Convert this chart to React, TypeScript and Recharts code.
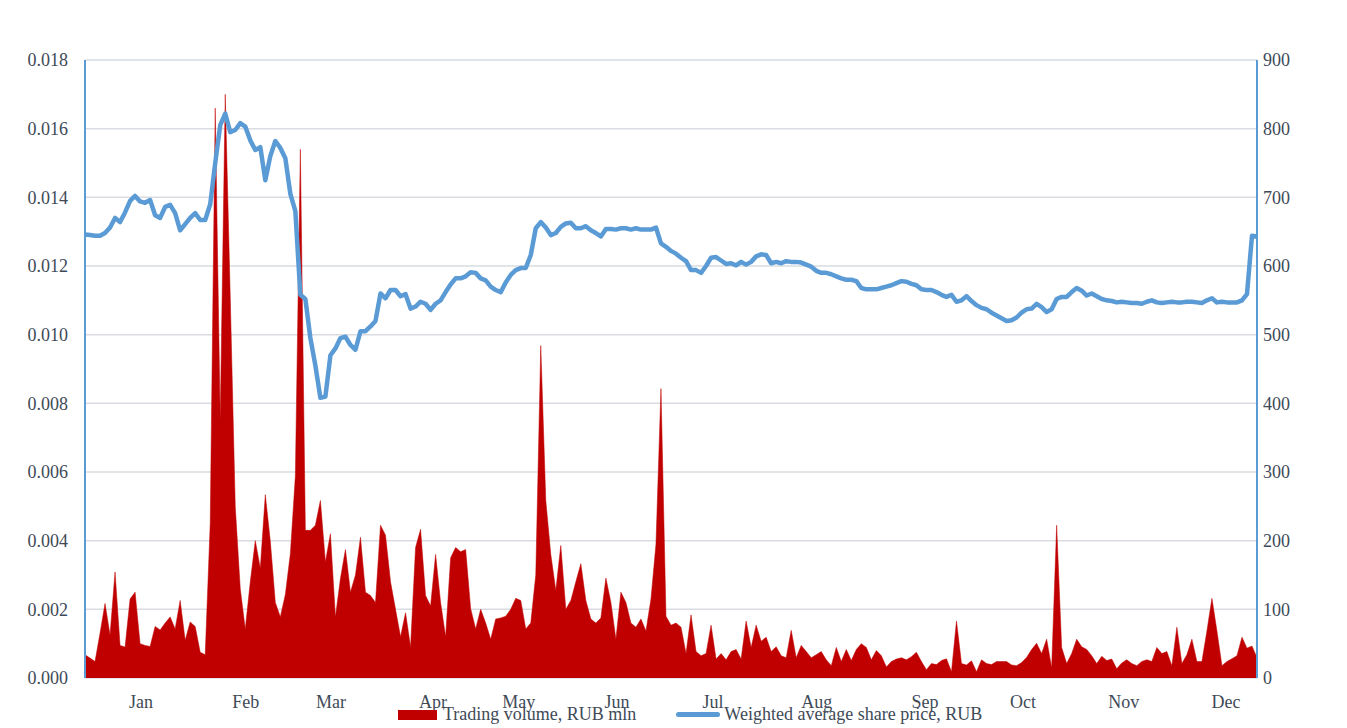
import React from "react";
import {
  ComposedChart,
  Area,
  Line,
  XAxis,
  YAxis,
  CartesianGrid,
} from "recharts";

// trading volume, one value per trading day (left axis)
const volume = [
  0.00068, 0.00058, 0.00048, 0.0013, 0.00217, 0.00125, 0.00309, 0.00095, 0.0009, 0.0023,
  0.0025, 0.001, 0.00095, 0.00092, 0.0015, 0.0014, 0.0016, 0.00178, 0.00143, 0.00226,
  0.0011, 0.00163, 0.0015, 0.00075, 0.00068, 0.0045, 0.0166, 0.0075, 0.017, 0.0111,
  0.005, 0.0026, 0.00143, 0.0028, 0.004, 0.0032, 0.00534, 0.00398, 0.0022, 0.00178,
  0.00243, 0.00362, 0.00588, 0.0154, 0.0043, 0.0043, 0.00445, 0.00517, 0.00338, 0.0042,
  0.00178, 0.0029, 0.00374, 0.0025, 0.003, 0.0041, 0.0025, 0.0024, 0.0022, 0.00445,
  0.00416, 0.0028, 0.002, 0.0012, 0.0019, 0.0009, 0.0038, 0.00433, 0.0024, 0.0021,
  0.0036, 0.0022, 0.0012, 0.0035, 0.0038, 0.00368, 0.00374, 0.00202, 0.00143, 0.002,
  0.0016, 0.00113, 0.00172, 0.00175, 0.0018, 0.002, 0.00232, 0.00226, 0.00143, 0.0016,
  0.003, 0.00968, 0.00517, 0.0036, 0.00255, 0.00386, 0.002, 0.00226, 0.0028, 0.00333,
  0.00226, 0.00172, 0.0016, 0.00175, 0.00291, 0.0022, 0.00113, 0.0025, 0.0022, 0.0016,
  0.00148, 0.00172, 0.00137, 0.0023, 0.0039, 0.00843, 0.0018, 0.00154, 0.0016, 0.00148,
  0.00071, 0.00184, 0.00077, 0.00065, 0.00071, 0.00154, 0.00055, 0.00071, 0.00053, 0.00077,
  0.00083, 0.00055, 0.00166, 0.00089, 0.00154, 0.00107, 0.00119, 0.00077, 0.00091, 0.00065,
  0.00059, 0.00139, 0.00059, 0.00095, 0.00077, 0.00059, 0.00068, 0.00077, 0.00053, 0.00036,
  0.00089, 0.00048, 0.00083, 0.00051, 0.00083, 0.001, 0.00089, 0.00053, 0.0008, 0.00065,
  0.00032, 0.00048, 0.00055, 0.00059, 0.00053, 0.00062, 0.00075, 0.00048, 0.00024, 0.00042,
  0.00039, 0.00051, 0.00056, 0.00018, 0.00166, 0.00042, 0.00038, 0.0005, 0.00018, 0.00053,
  0.00042, 0.00039, 0.00048, 0.00048, 0.00048, 0.00038, 0.00036, 0.00045, 0.0006, 0.00083,
  0.00101, 0.00071, 0.00113, 0.0003, 0.00445, 0.00089, 0.00042, 0.00071, 0.00113, 0.00091,
  0.00083, 0.00065, 0.00042, 0.00063, 0.00051, 0.00055, 0.00027, 0.00044, 0.00053, 0.00042,
  0.00036, 0.00048, 0.00053, 0.00048, 0.00089, 0.00071, 0.00077, 0.00036, 0.00148, 0.00042,
  0.00068, 0.00113, 0.00048, 0.00048, 0.00137, 0.00232, 0.00137, 0.00036, 0.00048, 0.00056,
  0.00065, 0.00119, 0.00087, 0.00093, 0.00059,
];

// weighted average share price, RUB (right axis)
const price = [
  646, 645, 644, 644, 648, 656, 670, 664, 678, 695,
  702, 694, 692, 696, 674, 670, 686, 689, 677, 652,
  661, 670, 677, 667, 667, 690, 750, 805, 822, 795,
  798, 808, 803, 783, 769, 773, 725, 760, 782, 772,
  757, 705, 680, 558, 552, 495, 455, 408, 410, 470,
  480, 495, 497, 485, 478, 505, 505, 512, 520, 560,
  553, 565, 565, 556, 559, 538, 541, 548, 545, 536,
  545, 550, 562, 573, 582, 582, 585, 591, 590, 582,
  579, 570, 565, 562, 576, 587, 594, 597, 597, 616,
  655, 664, 656, 645, 648, 657, 662, 663, 655, 655,
  658, 652, 648, 643, 654, 654, 653, 655, 655, 653,
  655, 653, 653, 653, 656, 633, 628, 622, 618, 612,
  607, 594, 594, 590, 600, 612, 613, 608, 603, 604,
  601, 606, 602, 606, 614, 617, 616, 604, 606, 604,
  607, 606, 606, 605, 602, 599, 593, 590, 590, 588,
  585, 582, 580, 580, 578, 568, 566, 566, 566, 568,
  570, 572, 575, 578, 577, 574, 572, 566, 565, 565,
  562, 558, 555, 558, 548, 550, 556, 549, 543, 539,
  537, 532, 528, 524, 520, 521, 525, 532, 537, 538,
  545, 540, 533, 537, 552, 555, 555, 562, 568, 564,
  557, 560, 556, 552, 550, 549, 547, 548, 547, 546,
  546, 545, 548, 550, 547, 546, 547, 548, 547, 547,
  548, 548, 547, 546, 550, 553, 547, 548, 547, 547,
  547, 550, 559, 644, 643,
];

const months = ["Jan", "Feb", "Mar", "Apr", "May", "Jun", "Jul", "Aug", "Sep", "Oct", "Nov", "Dec"];
// where each month label sits, in trading-day index
const monthPos = [11.2, 32.1, 49.1, 69.5, 86.6, 106.2, 125.4, 146.1, 167.7, 187.3, 207.4, 227.8];

const leftTicks = [0, 0.002, 0.004, 0.006, 0.008, 0.01, 0.012, 0.014, 0.016, 0.018];
const rightTicks = [0, 100, 200, 300, 400, 500, 600, 700, 800, 900];

const data = volume.map((v, i) => ({ day: i, volume: v, price: price[i] }));

const FONT = "'Liberation Serif', 'Times New Roman', serif";
const TEXT = "#404a57";
const BLUE = "#5B9BD5";
const RED = "#C00000";

function LegendBox() {
  return (
    <div
      style={{
        position: "absolute",
        left: 398,
        top: 704,
        display: "flex",
        alignItems: "center",
        fontFamily: FONT,
        fontSize: 18,
        color: TEXT,
        whiteSpace: "nowrap",
      }}
    >
      <span style={{ display: "inline-block", width: 39, height: 10, background: RED, marginRight: 6 }} />
      <span>Trading volume, RUB mln</span>
      <span
        style={{
          display: "inline-block",
          width: 44,
          height: 5,
          borderRadius: 3,
          background: BLUE,
          marginLeft: 40,
          marginRight: 4,
        }}
      />
      <span>Weighted average share price, RUB</span>
    </div>
  );
}

export default function App() {
  return (
    <div style={{ position: "absolute", left: 0, top: 0, width: 1347, height: 728, background: "#fff" }}>
      <ComposedChart
        width={1347}
        height={728}
        data={data}
        margin={{ top: 60, right: 0, bottom: 0, left: 0 }}
      >
        <CartesianGrid
          yAxisId="left"
          vertical={false}
          stroke="#D9DCE1"
          strokeWidth={1.5}
        />
        <XAxis
          dataKey="day"
          type="number"
          domain={[0, volume.length - 1]}
          ticks={monthPos}
          interval={0}
          tickFormatter={(v) => months[monthPos.indexOf(v)]}
          axisLine={false}
          tickLine={false}
          tickMargin={11}
          height={50}
          tick={{ fill: TEXT, fontFamily: FONT, fontSize: 18 }}
        />
        <YAxis
          yAxisId="left"
          orientation="left"
          width={85}
          domain={[0, 0.018]}
          ticks={leftTicks}
          interval={0}
          tickFormatter={(v) => v.toFixed(3)}
          axisLine={{ stroke: BLUE, strokeWidth: 2 }}
          tickLine={false}
          tickMargin={11}
          tick={{ fill: TEXT, fontFamily: FONT, fontSize: 18 }}
        />
        <YAxis
          yAxisId="right"
          orientation="right"
          width={90}
          domain={[0, 900]}
          ticks={rightTicks}
          interval={0}
          axisLine={{ stroke: BLUE, strokeWidth: 2 }}
          tickLine={false}
          tickMargin={0}
          tick={{ fill: TEXT, fontFamily: FONT, fontSize: 18 }}
        />
        <Area
          yAxisId="left"
          type="linear"
          dataKey="volume"
          fill={RED}
          fillOpacity={1}
          stroke={RED}
          strokeWidth={0.5}
          isAnimationActive={false}
          dot={false}
          activeDot={false}
        />
        <Line
          yAxisId="right"
          type="linear"
          dataKey="price"
          stroke={BLUE}
          strokeWidth={4.5}
          strokeLinejoin="round"
          dot={false}
          activeDot={false}
          isAnimationActive={false}
        />
      </ComposedChart>
      <LegendBox />
    </div>
  );
}
